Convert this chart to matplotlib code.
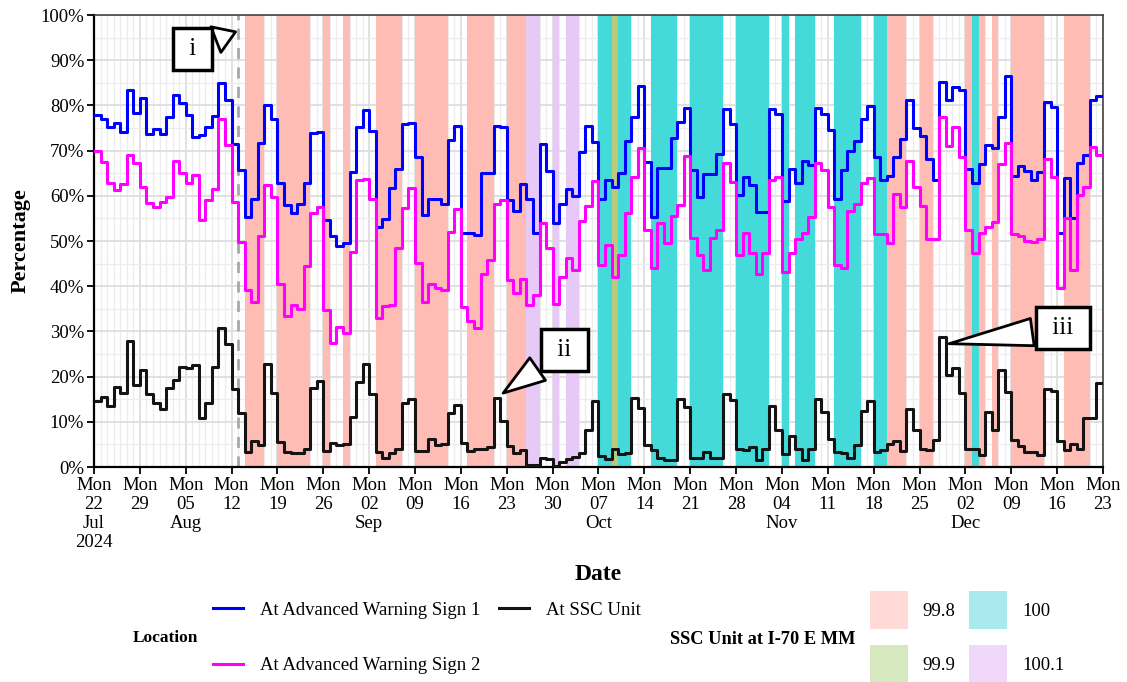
import numpy as np
import matplotlib.pyplot as plt
from matplotlib.lines import Line2D
from matplotlib.patches import Patch

plt.rcParams['font.family'] = ['Liberation Serif', 'DejaVu Serif']

# daily values, day 0 = Mon 22 Jul 2024
sign1 = [77.9, 77.1, 75.3, 76.0, 74.2, 83.3, 78.4, 81.6, 73.6, 74.7, 73.6, 77.4, 82.4, 80.5,
         77.9, 73.1, 73.5, 75.3, 77.7, 85.0, 81.2, 71.5, 65.7, 55.4, 59.4, 71.6, 80.0, 77.1,
         62.9, 58.0, 56.1, 58.3, 62.8, 73.8, 74.2, 54.6, 51.0, 48.8, 49.6, 65.3, 75.3, 79.0,
         74.4, 53.2, 54.8, 61.7, 65.9, 75.8, 76.0, 68.5, 55.8, 59.4, 59.4, 58.2, 72.3, 75.4,
         51.8, 51.7, 51.3, 65.0, 65.0, 75.4, 75.2, 59.1, 56.7, 62.6, 59.2, 51.7, 71.5, 65.6,
         54.0, 58.2, 61.4, 60.0, 69.8, 75.4, 72.0, 59.2, 63.5, 61.9, 65.0, 72.2, 77.4, 84.3,
         67.5, 55.4, 66.1, 66.1, 72.9, 76.4, 79.5, 65.7, 59.7, 64.8, 64.8, 69.2, 79.1, 75.8,
         60.2, 64.2, 62.4, 56.5, 56.5, 79.1, 78.0, 58.8, 65.9, 62.9, 67.7, 66.8, 79.5, 78.2,
         74.6, 59.4, 65.7, 70.0, 72.2, 77.1, 79.9, 68.5, 63.6, 64.4, 68.6, 72.5, 81.3, 75.0,
         73.2, 68.1, 63.5, 85.2, 81.2, 84.0, 83.4, 65.9, 62.9, 67.0, 71.2, 70.5, 77.5, 86.5,
         64.4, 66.6, 65.6, 63.5, 65.3, 80.8, 79.7, 51.8, 63.9, 55.0, 67.2, 69.0, 81.3, 82.1]

sign2 = [70.0, 67.5, 62.9, 61.3, 62.6, 69.0, 67.2, 62.0, 58.5, 57.6, 58.7, 59.8, 67.8, 65.1,
         62.8, 64.6, 54.6, 59.1, 61.4, 76.9, 71.2, 58.7, 49.8, 39.2, 36.6, 51.0, 62.5, 59.8,
         40.6, 33.4, 35.8, 34.9, 44.5, 56.1, 57.6, 34.7, 27.4, 30.9, 29.7, 47.6, 63.6, 63.8,
         59.2, 32.9, 35.6, 35.8, 48.4, 57.2, 61.7, 45.1, 36.6, 40.6, 39.5, 39.2, 52.1, 57.0,
         35.5, 32.4, 30.7, 42.8, 45.8, 58.3, 59.1, 41.4, 38.4, 41.5, 35.8, 38.1, 54.0, 48.4,
         36.1, 42.1, 46.2, 43.6, 54.5, 57.7, 63.3, 44.7, 49.1, 42.1, 46.9, 56.1, 64.2, 70.5,
         52.4, 44.0, 53.9, 49.5, 55.5, 58.0, 68.8, 50.7, 46.9, 43.6, 50.7, 52.5, 67.2, 63.1,
         46.9, 51.8, 47.3, 42.8, 47.3, 63.5, 64.2, 43.2, 47.3, 50.4, 51.7, 55.4, 67.2, 65.7,
         57.6, 44.7, 44.0, 56.7, 58.3, 62.8, 63.9, 51.5, 51.5, 49.5, 60.5, 57.6, 67.8, 62.0,
         57.7, 50.5, 50.5, 77.4, 71.0, 75.3, 68.5, 52.4, 47.3, 51.7, 53.2, 54.3, 67.0, 71.6,
         51.5, 51.0, 50.0, 49.8, 50.5, 68.1, 64.2, 39.5, 55.0, 43.6, 60.2, 62.0, 70.8, 69.0]

ssc = [14.5, 15.6, 13.5, 17.8, 16.4, 27.9, 18.1, 21.5, 16.2, 14.1, 12.8, 17.4, 19.2, 22.1,
       21.8, 22.6, 10.9, 14.2, 22.2, 30.8, 27.2, 17.2, 12.0, 3.4, 5.8, 4.9, 22.9, 16.3,
       5.6, 3.4, 3.0, 3.0, 4.1, 17.4, 19.1, 3.6, 5.4, 4.9, 5.2, 11.1, 18.9, 22.8,
       16.2, 3.4, 1.9, 3.2, 4.1, 14.1, 15.0, 3.6, 3.6, 6.1, 4.9, 5.2, 11.9, 13.7,
       5.4, 3.6, 3.9, 4.1, 4.5, 15.2, 10.2, 4.6, 3.2, 3.8, 0.4, 0.4, 2.1, 1.7,
       0.2, 1.2, 1.7, 2.3, 3.2, 8.2, 14.5, 2.4, 1.7, 4.1, 2.9, 3.0, 15.2, 13.0,
       4.9, 3.8, 1.9, 1.5, 1.5, 15.0, 13.3, 2.1, 2.1, 3.4, 1.9, 2.1, 16.2, 14.8,
       4.1, 3.8, 4.4, 1.5, 4.1, 13.5, 8.2, 2.9, 6.9, 4.1, 1.5, 4.1, 15.0, 12.2,
       6.3, 3.4, 3.0, 1.9, 4.9, 12.5, 14.5, 3.4, 3.8, 5.1, 5.8, 3.6, 12.8, 8.2,
       4.1, 3.8, 6.0, 28.8, 20.4, 21.8, 16.3, 4.1, 4.1, 2.7, 12.2, 8.2, 21.5, 16.7,
       6.0, 4.6, 3.4, 3.4, 2.7, 17.2, 16.9, 5.8, 3.8, 5.1, 3.9, 10.8, 10.8, 18.5]

# days where the SSC unit sat at each mile marker
mm_998 = [23, 24, 25, 28, 29, 30, 31, 32, 35, 38, 43, 44, 45, 46, 49, 50, 51, 52, 53,
          57, 58, 59, 60, 63, 64, 65, 121, 122, 123, 126, 127, 133, 135, 137,
          140, 141, 142, 143, 144, 148, 149, 150, 151]
mm_999 = [79]
mm_100 = [77, 78, 80, 81, 85, 86, 87, 88, 91, 92, 93, 94, 95, 98, 99, 100, 101, 102,
          105, 107, 108, 109, 113, 114, 115, 116, 119, 120, 134]
mm_1001 = [66, 67, 70, 72, 73]

tick_labels = ["Mon\n22\nJul\n2024", "Mon\n29", "Mon\n05\nAug", "Mon\n12", "Mon\n19",
               "Mon\n26", "Mon\n02\nSep", "Mon\n09", "Mon\n16", "Mon\n23", "Mon\n30",
               "Mon\n07\nOct", "Mon\n14", "Mon\n21", "Mon\n28", "Mon\n04\nNov", "Mon\n11",
               "Mon\n18", "Mon\n25", "Mon\n02\nDec", "Mon\n09", "Mon\n16", "Mon\n23"]

move_day = 22  # dashed line (i)

fig = plt.figure(figsize=(11.27, 6.82), dpi=100)
ax = fig.add_axes([0.0834, 0.3152, 0.8953, 0.6628])

band_cols = {'99.8': '#FFBCB5', '99.9': '#BCC97A', '100': '#45DADA', '100.1': '#E7C9F8'}
for days, key in [(mm_998, '99.8'), (mm_999, '99.9'), (mm_100, '100'), (mm_1001, '100.1')]:
    for d in days:
        ax.axvspan(d, d + 1, color=band_cols[key], lw=0, zorder=1)

days = np.arange(len(sign1) + 1)
ax.step(days, sign1 + [sign1[-1]], where='post', color='#0000FF', lw=2.2, zorder=3)
ax.step(days, sign2 + [sign2[-1]], where='post', color='#FF00FF', lw=2.2, zorder=3)
ax.step(days, ssc + [ssc[-1]], where='post', color='#141414', lw=2.2, zorder=4)

ax.axvline(move_day, color='#A8A8A8', ls=(0, (4, 3)), lw=2, zorder=2)

ax.set_xlim(0, len(sign1))
ax.set_ylim(0, 100)
ax.set_xticks(np.arange(0, len(sign1) + 1, 7))
ax.set_xticklabels(tick_labels, fontsize=13.5, linespacing=1.15)
ax.set_xticks(np.arange(0, len(sign1) + 1), minor=True)
ax.set_yticks(np.arange(0, 101, 10))
ax.set_yticklabels([f"{v}%" for v in range(0, 101, 10)], fontsize=13.5)
ax.set_yticks(np.arange(0, 101, 5), minor=True)
ax.tick_params(axis='both', which='major', length=5, width=1.3, color='black', pad=2)
ax.tick_params(axis='both', which='minor', length=0)
ax.set_axisbelow(True)
ax.grid(which='major', color='#DEDEDE', lw=1.3)
ax.grid(which='minor', color='#ECECEC', lw=0.9)
for s in ax.spines.values():
    s.set_color('#333333')
    s.set_linewidth(1.1)
ax.spines['left'].set_color('black')
ax.spines['bottom'].set_color('black')
ax.spines['left'].set_linewidth(1.6)
ax.spines['bottom'].set_linewidth(1.6)

ax.set_ylabel("Percentage", fontsize=16, fontweight='bold', labelpad=7)
ax.set_xlabel("Date", fontsize=17, fontweight='bold', labelpad=10)

# callouts
box = dict(boxstyle='square,pad=0.4', fc='white', ec='black', lw=2.5)
wedge = dict(arrowstyle='wedge,tail_width=1.1,shrink_factor=0.5', fc='white', ec='black', lw=2)
ax.annotate(" i ", xy=(move_day, 96.5), xytext=(15, 92.5), fontsize=18, ha='center', va='center',
            bbox=box, arrowprops=wedge, zorder=6)
ax.annotate(" ii ", xy=(62.1, 16), xytext=(71.8, 25.8), fontsize=18, ha='center', va='center',
            bbox=box, arrowprops=wedge, zorder=6)
ax.annotate(" iii ", xy=(130.1, 27.2), xytext=(147.9, 30.8), fontsize=18, ha='center', va='center',
            bbox=box, arrowprops=wedge, zorder=6)

# legends
loc_handles = [Line2D([], [], color='#0000FF', lw=2.2),
               Line2D([], [], color='#FF00FF', lw=2.2),
               Line2D([], [], color='#141414', lw=2.2)]
loc_labels = ["At Advanced Warning Sign 1", "At Advanced Warning Sign 2", "At SSC Unit"]
fig.legend(loc_handles, loc_labels, ncol=2, loc='center left',
           bbox_to_anchor=(213 / 1127, 1 - 638 / 682), frameon=False,
           fontsize=13.5, handlelength=1.6, handletextpad=0.9, columnspacing=1.0,
           labelspacing=2.06, borderpad=0, borderaxespad=0)
fig.text(133 / 1127, 1 - 638 / 682, "Location", fontsize=12.5, fontweight='bold', va='center')

mm_handles = [Patch(fc='#FFDAD6', ec='none'), Patch(fc='#D6E8BE', ec='none'),
              Patch(fc='#A8EAEE', ec='none'), Patch(fc='#F0D8FA', ec='none')]
mm_labels = ["99.8", "99.9", "100", "100.1"]
fig.legend(mm_handles, mm_labels, ncol=2, loc='center left',
           bbox_to_anchor=(870 / 1127, 1 - 637 / 682), frameon=False,
           fontsize=13.5, handlelength=2.0, handleheight=2.75, handletextpad=0.8,
           columnspacing=0.75, labelspacing=0.85, borderpad=0, borderaxespad=0)
fig.text(670 / 1127, 1 - 639 / 682, "SSC Unit at I-70 E MM", fontsize=13.2, fontweight='bold',
         va='center')

fig.savefig("out.png", dpi=100)
